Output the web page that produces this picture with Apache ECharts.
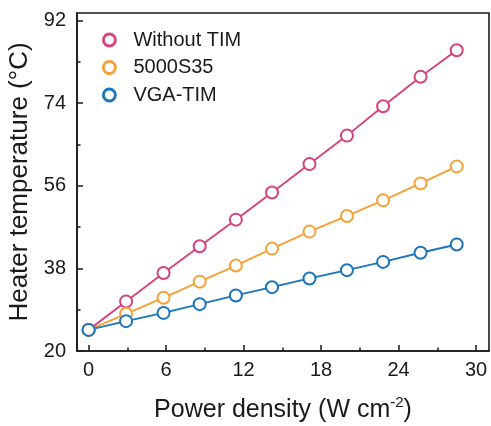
<!DOCTYPE html>
<html>
<head>
<meta charset="utf-8">
<script src="https://cdn.jsdelivr.net/npm/echarts@6/dist/echarts.min.js"></script>
<style>html,body{margin:0;padding:0;background:#fff}#c{width:491px;height:426px}</style>
</head>
<body>
<div id="c"></div>
<script>
const powerDensity = [0, 2.9, 5.8, 8.6, 11.4, 14.2, 17.1, 20.0, 22.8, 25.7, 28.5];
const withoutTIM = [24.6, 30.8, 37.0, 42.8, 48.6, 54.5, 60.7, 66.9, 73.3, 79.7, 85.5];
const s5000S35 = [24.6, 28.1, 31.6, 35.1, 38.6, 42.3, 46.0, 49.4, 52.8, 56.5, 60.2];
const vgaTIM = [24.6, 26.5, 28.3, 30.2, 32.1, 33.9, 35.8, 37.6, 39.4, 41.4, 43.2];
const seriesNames = ['Without TIM', '5000S35', 'VGA-TIM'];
const xMajorTicks = [0, 6, 12, 18, 24, 30];
const xMinorTicks = [3, 9, 15, 21, 27];
const yMajorTicks = [20, 38, 56, 74, 92];
const yMinorTicks = [29, 47, 65, 83];

const colors = ['#D6427E', '#F7A035', '#1B75BB'];
const font = 'Liberation Sans, Arial, Helvetica, sans-serif';
const txt = '#1a1a1a';
const values = [withoutTIM, s5000S35, vgaTIM];

const chart = echarts.init(document.getElementById('c'), null, {renderer: 'canvas'});
const axisLine = {show: true, onZero: false, lineStyle: {color: txt, width: 1.6}};
chart.setOption({
  animation: false,
  backgroundColor: '#fff',
  textStyle: {fontFamily: font},
  grid: {left: 77, top: 13, right: 2, bottom: 75, outerBoundsMode: 'none', containLabel: false,
    show: true, borderColor: txt, borderWidth: 1.6, backgroundColor: 'transparent'},
  legend: {
    orient: 'vertical', left: 97, top: 25, itemWidth: 12, itemHeight: 12, itemGap: 7.5,
    textStyle: {fontSize: 20, color: txt, fontFamily: font, padding: [0, 0, 0, 13]},
    data: seriesNames.map((n, i) => ({name: n, icon: 'circle', itemStyle: {color: '#fff', borderColor: colors[i], borderWidth: 2.8}}))
  },
  xAxis: [
    {
      type: 'value', min: -0.9, max: 31, position: 'bottom',
      axisLine: axisLine,
      axisTick: {show: true, inside: true, length: 6, customValues: xMajorTicks, lineStyle: {color: txt, width: 1.5}},
      axisLabel: {customValues: xMajorTicks, fontSize: 20, color: txt, fontFamily: font, margin: 9},
      splitLine: {show: false},
      name: 'Power density (W cm{s|-2})', nameLocation: 'middle', nameGap: 44,
      nameTextStyle: {fontSize: 25, color: txt, fontFamily: font, lineHeight: 30,
        rich: {s: {fontSize: 15, color: txt, fontFamily: font, verticalAlign: 'top', lineHeight: 22}}}
    },
    {
      type: 'value', min: -0.9, max: 31, position: 'bottom',
      axisLine: {show: false, onZero: false},
      axisTick: {show: true, inside: true, length: 3.5, customValues: xMinorTicks, lineStyle: {color: txt, width: 1.5}},
      axisLabel: {show: false},
      splitLine: {show: false}
    }
  ],
  yAxis: [
    {
      type: 'value', min: 20, max: 93.6, position: 'left',
      axisLine: axisLine,
      axisTick: {show: true, inside: true, length: 6, customValues: yMajorTicks, lineStyle: {color: txt, width: 1.5}},
      axisLabel: {customValues: yMajorTicks, fontSize: 20, color: txt, fontFamily: font, margin: 11},
      splitLine: {show: false},
      name: 'Heater temperature (°C)', nameLocation: 'middle', nameGap: 34,
      nameTextStyle: {fontSize: 26, color: txt, fontFamily: font}
    },
    {
      type: 'value', min: 20, max: 93.6, position: 'left',
      axisLine: {show: false, onZero: false},
      axisTick: {show: true, inside: true, length: 3.5, customValues: yMinorTicks, lineStyle: {color: txt, width: 1.5}},
      axisLabel: {show: false},
      splitLine: {show: false}
    }
  ],
  series: seriesNames.map((n, i) => ({
    name: n, type: 'line', xAxisIndex: 0, yAxisIndex: 0,
    data: powerDensity.map((x, j) => [x, values[i][j]]),
    symbol: 'emptyCircle', symbolSize: 12,
    lineStyle: {color: colors[i], width: 1.9},
    itemStyle: {color: colors[i], borderColor: colors[i], borderWidth: 2.8},
    emphasis: {disabled: true}
  }))
});
</script>
</body>
</html>
